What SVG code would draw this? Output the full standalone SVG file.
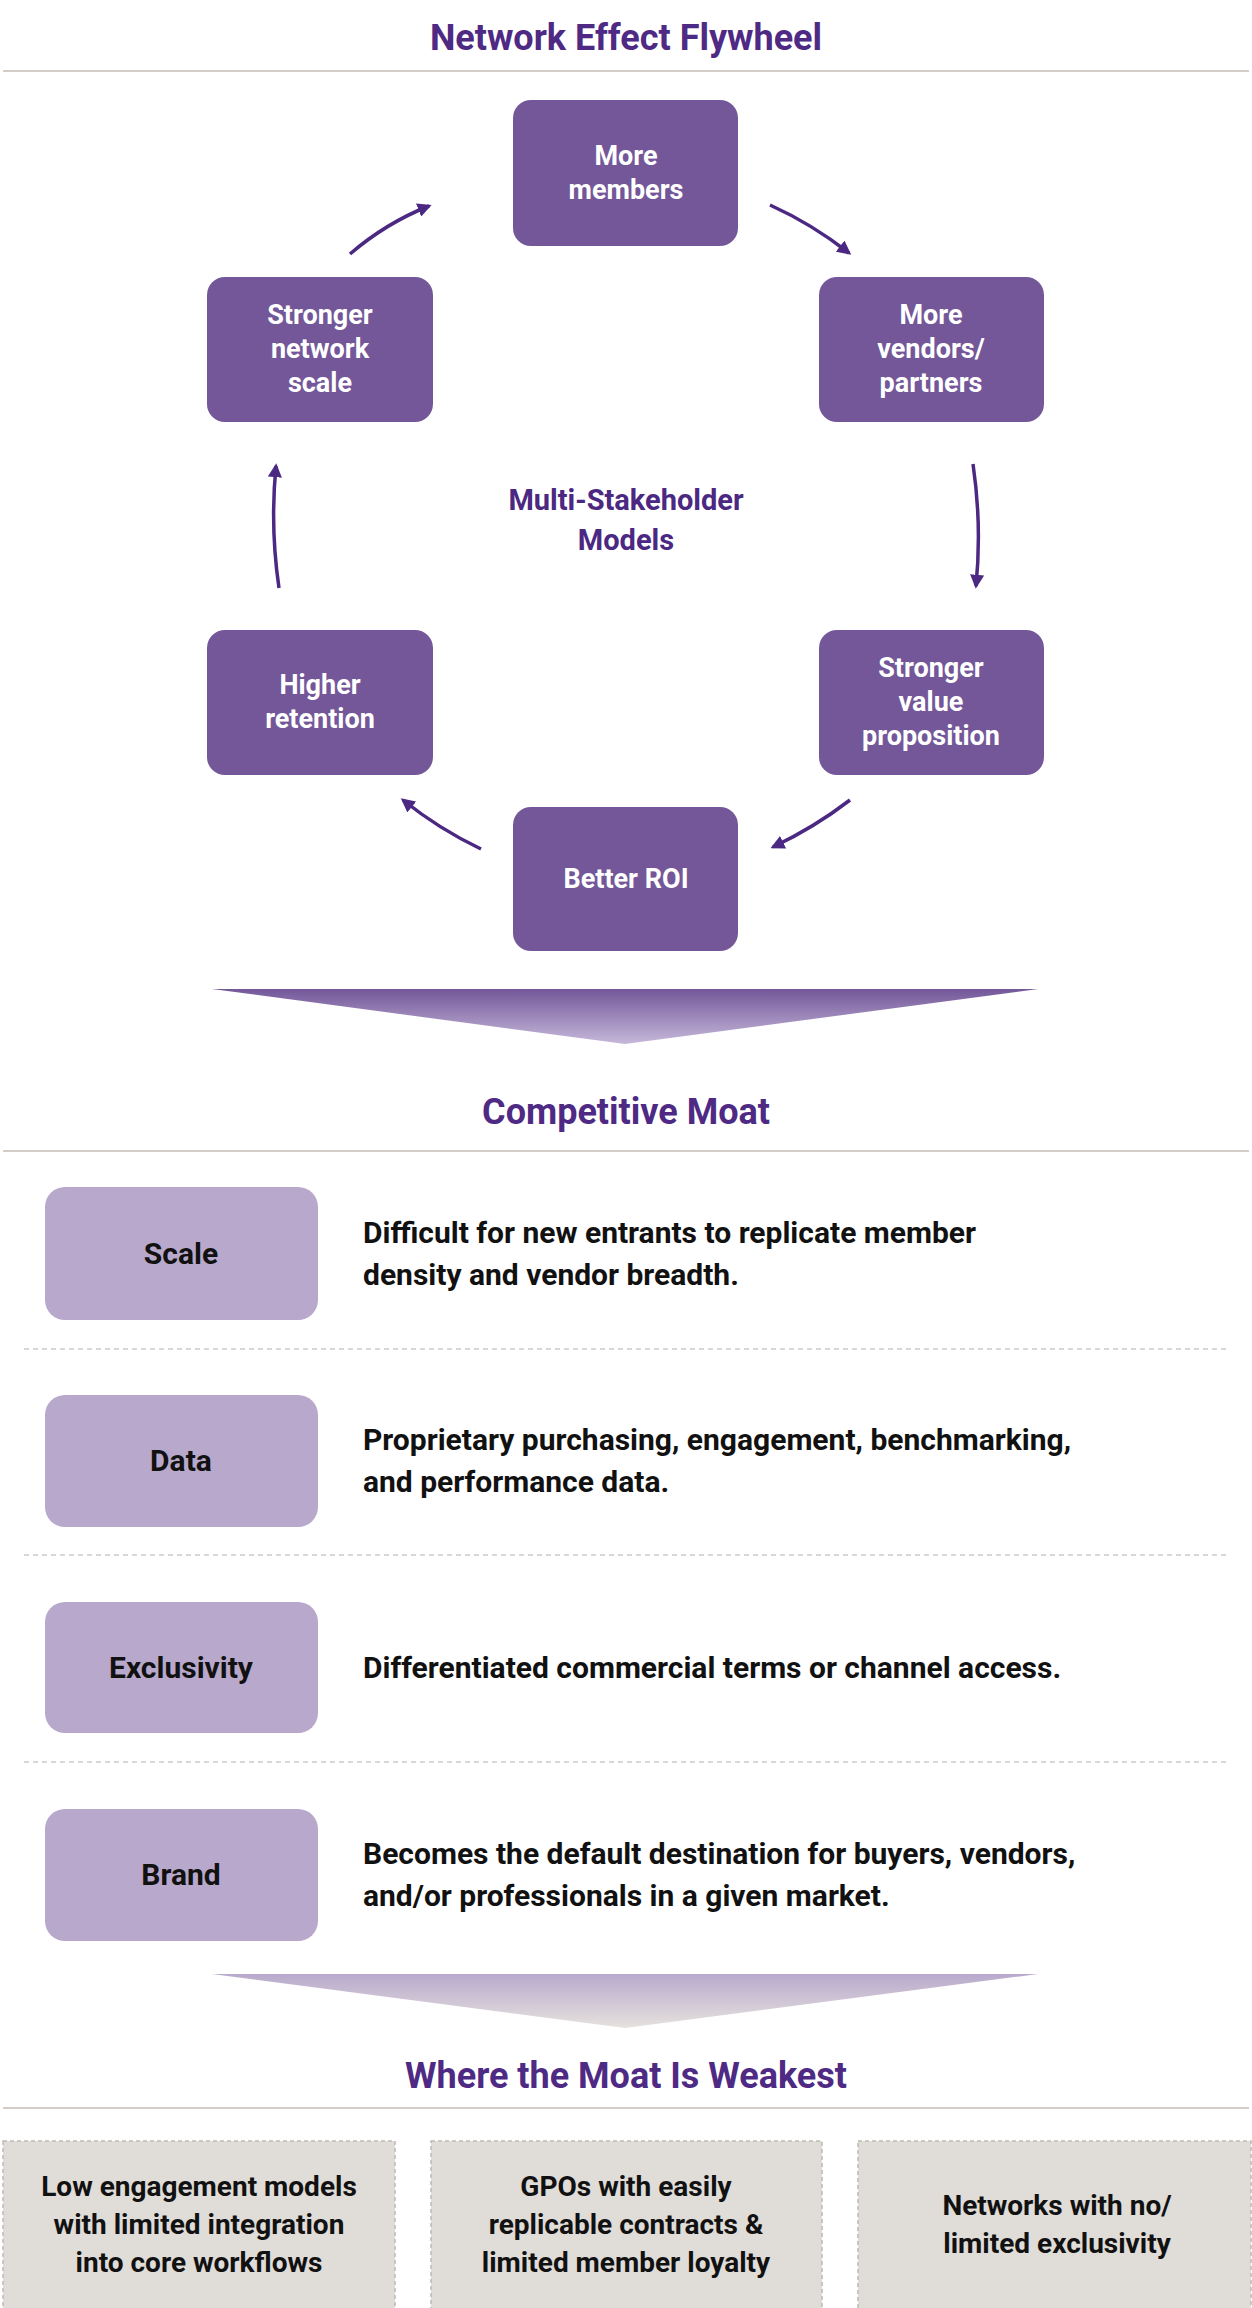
<svg xmlns="http://www.w3.org/2000/svg" width="1252" height="2308" viewBox="0 0 1252 2308">
<style>
.t{font-family:Roboto,"Liberation Sans",sans-serif;font-weight:700;fill:#4e2a84;font-size:36px;text-anchor:middle}
.n rect{fill:#735799}
.n text{font-family:Roboto,"Liberation Sans",sans-serif;font-weight:700;fill:#fff;font-size:27px;text-anchor:middle}
.m rect{fill:#b8a9cc}
.m text{font-family:Roboto,"Liberation Sans",sans-serif;font-weight:700;fill:#111;font-size:30px}
.w rect{fill:#e0dcd8;stroke:#bfb9b3;stroke-width:1.5;stroke-dasharray:4 3}
.w text{font-family:Roboto,"Liberation Sans",sans-serif;font-weight:700;fill:#111;font-size:28px;text-anchor:middle}
.rule{stroke:#d3ccc7;stroke-width:2}
.dash{stroke:#ccc;stroke-width:1.5;stroke-dasharray:5 4}
.c path{fill:none;stroke:#4b2882;stroke-width:3.5;marker-end:url(#ah)}
</style>
<defs>
<marker id="ah" viewBox="0 0 10 10" refX="8" refY="5" markerWidth="4" markerHeight="4" orient="auto" markerUnits="strokeWidth"><path d="M0,0 L10,5 L0,10 z" fill="#4b2882"/></marker>
<linearGradient id="g1" x1="0" y1="0" x2="0" y2="1"><stop offset="0" stop-color="#735799"/><stop offset="1" stop-color="#c6b8da"/></linearGradient>
<linearGradient id="g2" x1="0" y1="0" x2="0" y2="1"><stop offset="0" stop-color="#b8a9cc"/><stop offset="1" stop-color="#e6e2de"/></linearGradient>
</defs>
<rect width="1252" height="2308" fill="#fff"/>
<text class="t" x="626" y="50">Network Effect Flywheel</text>
<line class="rule" x1="3" y1="71" x2="1249" y2="71"/>
<g class="c">
<path d="M770,205 Q812,224 849,253"/>
<path d="M973,464 Q982,525 976,586"/>
<path d="M850,800 Q815,827 773,847"/>
<path d="M481,849 Q439,829 403,800"/>
<path d="M279,588 Q270,527 276,466"/>
<path d="M350,254 Q386,223 429,206"/>
</g>
<g id="n1" class="n"><rect x="513" y="100" width="225" height="146" rx="18"/><text x="626" y="165">More</text><text x="626" y="199">members</text></g>
<g id="n2" class="n"><rect x="819" y="277" width="225" height="145" rx="18"/><text x="931" y="324">More</text><text x="931" y="358">vendors/</text><text x="931" y="392">partners</text></g>
<g id="n3" class="n"><rect x="819" y="630" width="225" height="145" rx="18"/><text x="931" y="677">Stronger</text><text x="931" y="711">value</text><text x="931" y="745">proposition</text></g>
<g id="n4" class="n"><rect x="513" y="807" width="225" height="144" rx="18"/><text x="626" y="888">Better ROI</text></g>
<g id="n5" class="n"><rect x="207" y="630" width="226" height="145" rx="18"/><text x="320" y="694">Higher</text><text x="320" y="728">retention</text></g>
<g id="n6" class="n"><rect x="207" y="277" width="226" height="145" rx="18"/><text x="320" y="324">Stronger</text><text x="320" y="358">network</text><text x="320" y="392">scale</text></g>
<text class="t" x="626" y="510" style="font-size:29px;fill:#4b2882">Multi-Stakeholder</text>
<text class="t" x="626" y="550" style="font-size:29px;fill:#4b2882">Models</text>
<polygon points="212,989 1038,989 625,1044" fill="url(#g1)"/>
<text class="t" x="626" y="1124">Competitive Moat</text>
<line class="rule" x1="3" y1="1151" x2="1249" y2="1151"/>
<g id="m1" class="m"><rect x="45" y="1187" width="273" height="133" rx="20"/><text x="181" y="1264" text-anchor="middle">Scale</text><text x="363" y="1243">Difficult for new entrants to replicate member</text><text x="363" y="1285">density and vendor breadth.</text></g>
<line class="dash" x1="24" y1="1349" x2="1228" y2="1349"/>
<g id="m2" class="m"><rect x="45" y="1395" width="273" height="132" rx="20"/><text x="181" y="1471" text-anchor="middle">Data</text><text x="363" y="1450">Proprietary purchasing, engagement, benchmarking,</text><text x="363" y="1492">and performance data.</text></g>
<line class="dash" x1="24" y1="1555" x2="1228" y2="1555"/>
<g id="m3" class="m"><rect x="45" y="1602" width="273" height="131" rx="20"/><text x="181" y="1678" text-anchor="middle">Exclusivity</text><text x="363" y="1678">Differentiated commercial terms or channel access.</text></g>
<line class="dash" x1="24" y1="1762" x2="1228" y2="1762"/>
<g id="m4" class="m"><rect x="45" y="1809" width="273" height="132" rx="20"/><text x="181" y="1885" text-anchor="middle">Brand</text><text x="363" y="1864">Becomes the default destination for buyers, vendors,</text><text x="363" y="1906">and/or professionals in a given market.</text></g>
<polygon points="212,1974 1038,1974 625,2028" fill="url(#g2)"/>
<text class="t" x="626" y="2088">Where the Moat Is Weakest</text>
<line class="rule" x1="3" y1="2108" x2="1249" y2="2108"/>
<g id="w1" class="w"><rect x="3" y="2141" width="392" height="170"/><text x="199" y="2196">Low engagement models</text><text x="199" y="2234">with limited integration</text><text x="199" y="2272">into core workflows</text></g>
<g id="w2" class="w"><rect x="431" y="2141" width="391" height="170"/><text x="626" y="2196">GPOs with easily</text><text x="626" y="2234">replicable contracts &amp;</text><text x="626" y="2272">limited member loyalty</text></g>
<g id="w3" class="w"><rect x="858" y="2141" width="393" height="170"/><text x="1057" y="2215">Networks with no/</text><text x="1057" y="2253">limited exclusivity</text></g>
</svg>
